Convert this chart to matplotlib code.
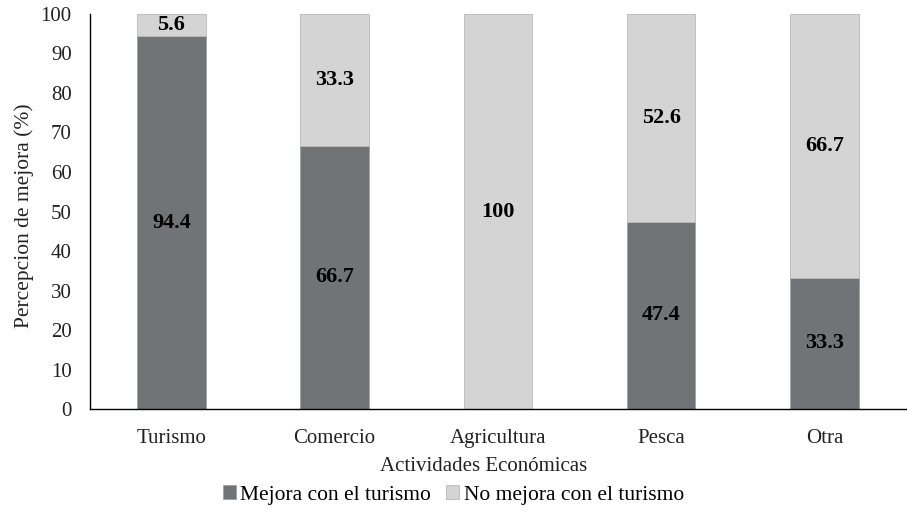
import matplotlib
matplotlib.use("Agg")
import matplotlib.pyplot as plt
import numpy as np

categories = ["Turismo", "Comercio", "Agricultura", "Pesca", "Otra"]
mejora = [94.4, 66.7, 0, 47.4, 33.3]
no_mejora = [5.6, 33.3, 100, 52.6, 66.7]
labels_mejora = ["94.4", "66.7", "", "47.4", "33.3"]
labels_no = ["5.6", "33.3", "100", "52.6", "66.7"]
yticks = list(range(0, 101, 10))

plt.rcParams['font.family'] = ['Liberation Serif', 'DejaVu Serif']

fig = plt.figure(figsize=(9.07, 5.14), dpi=100)
ax = fig.add_axes([0.099, 0.204, 0.9, 0.769])

x = np.arange(len(categories))
dark = "#717476"
light = "#d4d4d4"
w = 0.42
ax.bar(x, mejora, w, color=dark, edgecolor="#a0a0a0", linewidth=0.6, label="Mejora con el turismo")
ax.bar(x, no_mejora, w, bottom=mejora, color=light, edgecolor="#b8b8b8", linewidth=0.6, label="No mejora con el turismo")

for i in range(len(categories)):
    if labels_mejora[i]:
        ax.text(x[i], mejora[i] / 2, labels_mejora[i], ha="center", va="center",
                fontsize=16, fontweight="bold", color="black")
    ax.text(x[i], mejora[i] + no_mejora[i] / 2, labels_no[i], ha="center", va="center",
            fontsize=16, fontweight="bold", color="black")

ax.set_xlim(-0.5, len(categories) - 0.5)
ax.set_ylim(0, 100)
ax.set_yticks(yticks)
ax.set_xticks(x)
ax.set_xticklabels(categories)
ax.tick_params(axis="both", length=0, labelsize=15, colors="#222222")
ax.tick_params(axis="x", pad=14)
ax.tick_params(axis="y", pad=13)
for s in ["top", "right"]:
    ax.spines[s].set_visible(False)
ax.spines["left"].set_linewidth(1.0)
ax.spines["bottom"].set_linewidth(1.0)

ax.set_xlabel("Actividades Económicas", fontsize=15, color="#222222")
ax.xaxis.set_label_coords(0.482, -0.12)
ax.set_ylabel("Percepcion de mejora (%)", fontsize=15.5, color="#222222")
ax.yaxis.set_label_coords(-0.068, 0.49)

fig.legend(loc="center", bbox_to_anchor=(0.5, 0.037), ncol=2, frameon=False,
           fontsize=15.5, handlelength=0.6, handleheight=0.6, handletextpad=0.2,
           columnspacing=0.7)

fig.savefig("out.png", dpi=100)
